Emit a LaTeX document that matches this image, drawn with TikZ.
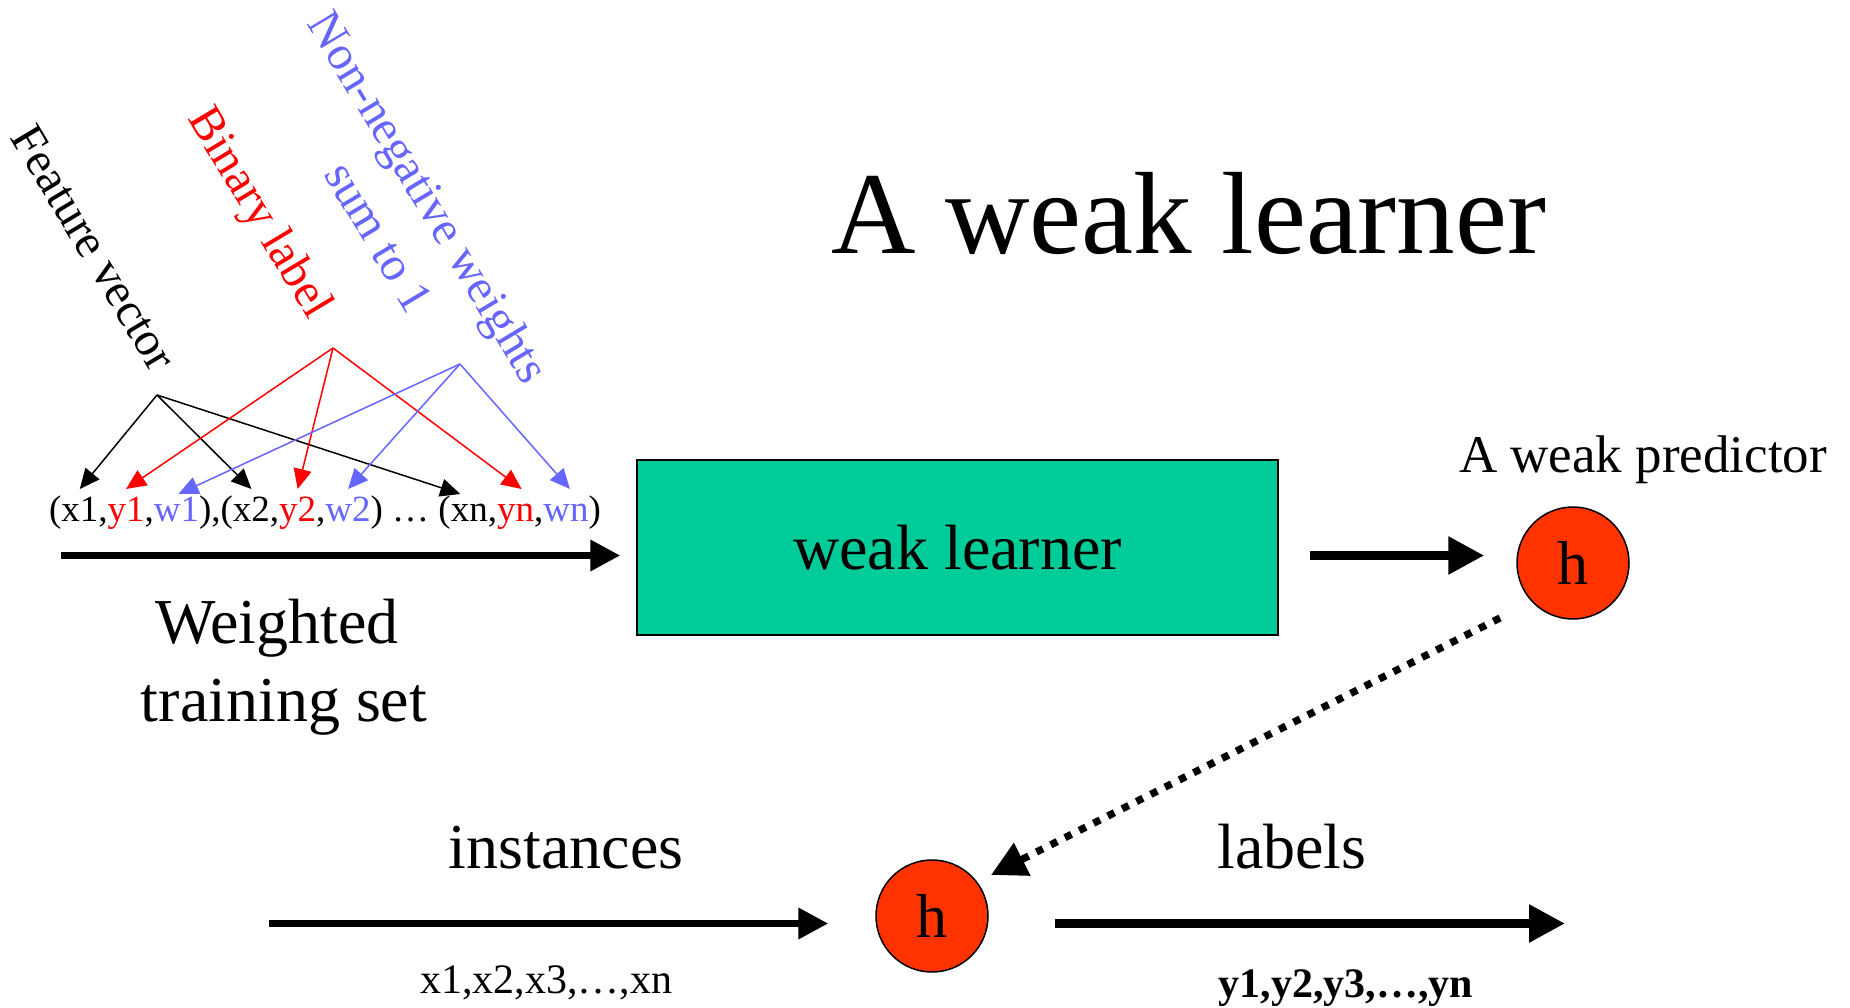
\documentclass[tikz,border=0pt]{standalone}
\usepackage{fontspec}
\setmainfont{Liberation Serif}
\usetikzlibrary{arrows.meta}

\definecolor{learnerteal}{HTML}{00CC99}
\definecolor{predred}{HTML}{FF3300}
\definecolor{weightblue}{HTML}{6666FF}
\definecolor{labelred}{HTML}{FF0000}

% font size in points, used for every text
\newcommand\setfs[1]{\fontsize{#1pt}{#1pt}\selectfont}

\begin{document}
\begin{tikzpicture}[x=1pt,y=-1pt,
  midarrow/.style={line width=7pt,-{Triangle[length=30pt,width=30pt]}},
  bigarrow/.style={line width=8.7pt,-{Triangle[length=36pt,width=36pt]}},
  pointer/.style={line width=1.5pt,-{Triangle[length=20pt,width=18pt]}},
  dotlink/.style={line width=7.3pt,dash pattern=on 7.3pt off 8.7pt,-{Triangle[length=35pt,width=35pt]}},
  predictor/.style={circle,draw=black,line width=1.5pt,fill=predred,minimum size=112pt,inner sep=0pt,font=\setfs{62}},
  tok/.style={anchor=base west,inner sep=0pt,outer sep=0pt,font=\setfs{37}},
  slanted/.style={rotate=-59,inner sep=0pt,font=\setfs{48}},
  caption/.style={anchor=base,inner sep=0pt,font=\setfs{64}}
]
\useasboundingbox (0,0) rectangle (1850,1008);

% title
\node[anchor=base,inner sep=0pt,font=\setfs{117}] (title) at (1189,254) {A weak learner};

% learner box and predictors
\node[draw=black,line width=1.5pt,fill=learnerteal,minimum width=641pt,minimum height=175pt,
      inner sep=0pt,font=\setfs{64}] (box) at (957.5,547.5) {weak learner};
\node[predictor] (h1) at (1573,563) {h};
\node[anchor=base,inner sep=0pt,font=\setfs{53}] (pred) at (1643,472) {A weak predictor};
\node[predictor] (h2) at (932,916) {h};

% weighted training set, token by token
\node[tok] (p1) at (49,521) {(};
\node[tok] (x1) at (p1.base east) {x1};
\node[tok] (k1) at (x1.base east) {,};
\node[tok,text=labelred] (y1) at (k1.base east) {y1};
\node[tok] (k2) at (y1.base east) {,};
\node[tok,text=weightblue] (w1) at (k2.base east) {w1};
\node[tok] (p2) at (w1.base east) {),(};
\node[tok] (x2) at (p2.base east) {x2};
\node[tok] (k3) at (x2.base east) {,};
\node[tok,text=labelred] (y2) at (k3.base east) {y2};
\node[tok] (k4) at (y2.base east) {,};
\node[tok,text=weightblue] (w2) at (k4.base east) {w2};
\node[tok] (p3) at (w2.base east) {) … (};
\node[tok] (xn) at (p3.base east) {xn};
\node[tok] (k5) at (xn.base east) {,};
\node[tok,text=labelred] (yn) at (k5.base east) {yn};
\node[tok] (k6) at (yn.base east) {,};
\node[tok,text=weightblue] (wn) at (k6.base east) {wn};
\node[tok] (p4) at (wn.base east) {)};

% slanted field labels
\node[slanted] (feat) at (94,248) {Feature vector};
\node[slanted,text=labelred] (bin) at (258,214) {Binary label};
\node[slanted,text=weightblue] (nonneg) at (425,199) {Non-negative weights};
\node[slanted,text=weightblue] (sumone) at (379,237) {sum to 1};

% fan-out points of the field labels
\coordinate (fv) at (157,395);
\coordinate (bl) at (333,348);
\coordinate (nw) at (460,364);

\draw[pointer,black] (fv) -- ([yshift=32pt]x1.base);
\draw[pointer,black] (fv) -- ([yshift=32pt]x2.base);
\draw[pointer,black] (fv) -- ([xshift=-9pt,yshift=27pt]xn.base);
\draw[pointer,labelred] (bl) -- ([yshift=32pt]y1.base);
\draw[pointer,labelred] (bl) -- ([yshift=32pt]y2.base);
\draw[pointer,labelred] (bl) -- ([xshift=6pt,yshift=32pt]yn.base);
\draw[pointer,weightblue] (nw) -- ([xshift=2pt,yshift=27pt]w1.base);
\draw[pointer,weightblue] (nw) -- ([yshift=32pt]w2.base);
\draw[pointer,weightblue] (nw) -- ([xshift=4pt,yshift=32pt]wn.base);

% training set caption
\node[caption] (wts1) at (277,643) {Weighted};
\node[caption] (wts2) at (284,721) {training set};

% main flow
\coordinate (in0) at (61,555.5);
\draw[midarrow,shorten >=16pt] (in0) -- (box.west |- in0);
\draw[bigarrow,shorten <=31pt,shorten >=32pt] (box.east |- in0) -- (h1.west |- in0);
\draw[dotlink] ([xshift=-73pt,yshift=-55pt]h1.center) -- ([xshift=59pt,yshift=41pt]h2.center);

% prediction on new instances
\coordinate (ins0) at (269,923.5);
\coordinate (outs) at (1565,923.5);
\draw[midarrow,shorten >=47pt] (ins0) -- (h2.west |- ins0);
\draw[bigarrow,shorten <=66pt] (h2.east |- outs) -- (outs);

\node[caption] (inst) at (566,868) {instances};
\node[caption] (lab) at (1292,868) {labels};
\node[anchor=base,inner sep=0pt,font=\setfs{42}] (xs) at (546,993) {x1,x2,x3,…,xn};
\node[anchor=base,inner sep=0pt,font=\setfs{42}\bfseries] (ys) at (1346,997) {y1,y2,y3,…,yn};
\end{tikzpicture}
\end{document}
